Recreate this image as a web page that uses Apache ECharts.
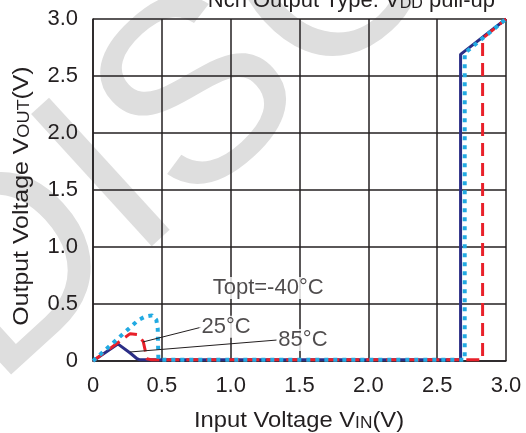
<!DOCTYPE html>
<html>
<head>
<meta charset="utf-8">
<script src="https://cdn.jsdelivr.net/npm/echarts@6/dist/echarts.min.js"></script>
<style>
  html, body { margin: 0; padding: 0; background: #ffffff; }
  #chart { width: 526px; height: 433px; }
</style>
</head>
<body>
<div id="chart"></div>
<script>
// Tick labels for both axes (0 to 3.0 V in 0.5 V steps)
const xTickLabels = ['0', '0.5', '1.0', '1.5', '2.0', '2.5', '3.0'];
const yTickLabels = ['0', '0.5', '1.0', '1.5', '2.0', '2.5', '3.0'];

// Output voltage curves, [VIN, VOUT] pairs
const curveNavy = [
  [0, 0], [0.18, 0.15], [0.27, 0.07], [0.32, 0.02], [0.34, 0.01],
  [2.67, 0.01], [2.67, 2.69], [3.0, 3.0]
];
const curveRed = [
  [0, 0], [0.27, 0.24], [0.33, 0.23], [0.365, 0.17], [0.378, 0.10],
  [0.39, 0.02], [0.42, 0.012], [2.83, 0.012], [2.83, 2.83], [3.0, 3.0]
];
const curveBlue = [
  [0, 0], [0.22, 0.24], [0.33, 0.36], [0.38, 0.39], [0.43, 0.40],
  [0.46, 0.36], [0.47, 0.29], [0.475, 0.01], [2.70, 0.01],
  [2.70, 2.70], [3.0, 3.0]
];

// Temperature annotations: label position and leader line ends
const noteTexts = ['Topt=-40°C', '25°C', '85°C'];
const notePos = [[1.272, 0.64], [0.966, 0.30], [1.525, 0.184]];
const leader25 = [[0.785, 0.296], [0.363, 0.167]];
const leader85 = [[1.337, 0.184], [0.269, 0.079]];

const ink = '#231f20';
const font = 'Liberation Sans, Arial, sans-serif';

const chart = echarts.init(document.getElementById('chart'), null, { renderer: 'canvas' });

function tickFmt(labels) {
  return function (v) {
    const i = Math.round(v / 0.5);
    return labels[i] !== undefined ? labels[i] : '';
  };
}

const axisCommon = {
  type: 'value',
  min: 0,
  max: 3,
  interval: 0.5,
  axisLine: { show: true, lineStyle: { color: ink, width: 1.5 } },
  axisTick: { show: false },
  splitLine: { show: true, lineStyle: { color: ink, width: 1.5 } }
};

const subRich = { s: { fontFamily: font, fontSize: 16, fill: ink, verticalAlign: 'bottom' },
                  m: { fontFamily: font, fontSize: 22, fill: ink, verticalAlign: 'bottom' } };

chart.setOption({
  animation: false,
  backgroundColor: '#ffffff',
  graphic: [
    {
      // faint diagonal stamp behind the plot
      type: 'text',
      z: -10,
      silent: true,
      x: -53, y: 336,
      rotation: 0.74,
      style: {
        text: 'DISCONTINUED',
        fontFamily: font,
        fontSize: 260,
        fill: '#dedede',
        align: 'left',
        verticalAlign: 'middle'
      }
    },
    {
      type: 'text',
      silent: true,
      right: 31,
      top: -10,
      style: {
        text: '{m|Nch Output Type: V}{s|DD}{m| pull-up}',
        fill: ink,
        rich: subRich
      }
    },
    {
      // x-axis title
      type: 'text',
      silent: true,
      x: 299, y: 421,
      scaleX: 1.08,
      style: {
        text: '{m|Input Voltage V}{s|IN}{m|(V)}',
        align: 'center', verticalAlign: 'middle',
        fill: ink, rich: subRich
      }
    },
    {
      // y-axis title
      type: 'text',
      silent: true,
      x: 22, y: 196,
      rotation: Math.PI / 2,
      scaleX: 1.13,
      style: {
        text: '{m|Output Voltage V}{s|OUT}{m|(V)}',
        align: 'center', verticalAlign: 'middle',
        fill: ink, rich: subRich
      }
    }
  ],
  grid: { left: 93, right: 20, top: 19, bottom: 72, containLabel: false },
  xAxis: Object.assign({}, axisCommon, {
    axisLabel: {
      formatter: tickFmt(xTickLabels),
      fontFamily: font, fontSize: 22, color: ink, margin: 14
    }
  }),
  yAxis: Object.assign({}, axisCommon, {
    axisLabel: {
      formatter: tickFmt(yTickLabels),
      fontFamily: font, fontSize: 22, color: ink, margin: 15
    }
  }),
  series: [
    {
      type: 'line', data: curveNavy, symbol: 'none', z: 3,
      lineStyle: { color: '#2b2e86', width: 3 }
    },
    {
      type: 'line', data: curveRed, symbol: 'none', z: 4,
      lineStyle: { color: '#e8202a', width: 3, type: [13, 7] }
    },
    {
      type: 'line', data: curveBlue, symbol: 'none', z: 5,
      lineStyle: { color: '#22aae2', width: 4, type: [4, 5], cap: 'butt' }
    },
    {
      type: 'line', data: leader25, symbol: 'none', z: 6,
      lineStyle: { color: ink, width: 1 }
    },
    {
      type: 'line', data: leader85, symbol: 'none', z: 6,
      lineStyle: { color: ink, width: 1 }
    },
    {
      type: 'scatter', z: 7,
      symbolSize: 0,
      data: notePos.map(function (p, i) { return { value: p, name: noteTexts[i] }; }),
      label: {
        show: true, position: 'inside',
        formatter: function (p) { return p.name; },
        fontFamily: font, fontSize: 22, color: ink,
        backgroundColor: '#ffffff', padding: [0, 2]
      }
    }
  ]
});
</script>
</body>
</html>
